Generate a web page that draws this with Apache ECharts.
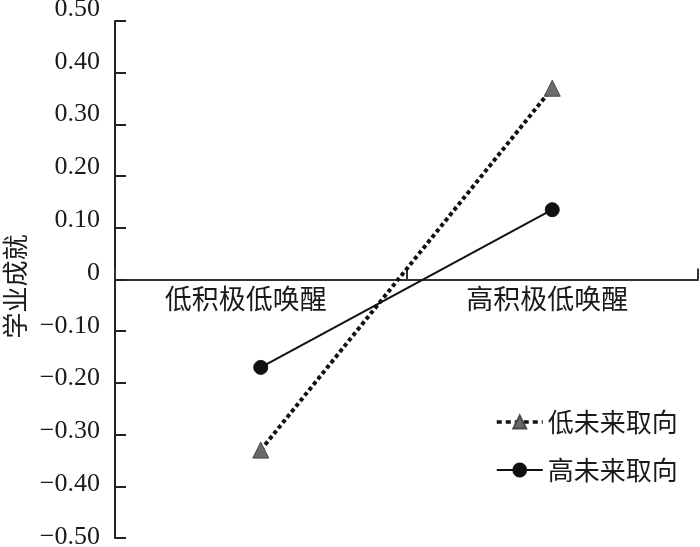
<!DOCTYPE html>
<html>
<head>
<meta charset="utf-8">
<script src="https://cdn.jsdelivr.net/npm/echarts@6/dist/echarts.min.js"></script>
<style>
	html, body { margin: 0; padding: 0; background: #fff; }
	#chart { width: 700px; height: 547px; }
</style>
</head>
<body>
<div id="chart"></div>
<script>
// 数据
const categories = [ '低积极低唤醒', '高积极低唤醒' ];
const lowFuture = [ -0.33, 0.37 ];
const highFuture = [ -0.17, 0.135 ];
const yTickValues = [ -0.5, -0.4, -0.3, -0.2, -0.1, 0, 0.1, 0.2, 0.3, 0.4, 0.5 ];

const cjk = '"Noto Sans CJK SC", sans-serif';
const serif = '"Liberation Serif", "DejaVu Serif", serif';

// y轴刻度文字略微上移（原图中文字与刻度不完全对齐）
const yRich = {};
yTickValues.forEach( function ( v, i ) {
	yRich[ 'y' + i ] = {
		fontFamily: serif,
		fontSize: 26,
		color: '#1a1a1a',
		padding: [ 0, 0, Math.round( 13 + 22 * v ), 0 ]
	};
} );

const xRich = {
	x0: { fontFamily: cjk, fontSize: 27, color: '#1a1a1a', padding: [ 0, 30, 0, 0 ] },
	x1: { fontFamily: cjk, fontSize: 27, color: '#1a1a1a', padding: [ 0, 10, 0, 0 ] }
};

const myChart = echarts.init( document.getElementById( 'chart' ), null, { renderer: 'canvas' } );
const option = {
	animation: false,
	backgroundColor: '#fff',
	grid: { left: 115, right: 2, top: 21, bottom: 9, outerBoundsMode: 'none', containLabel: false },
	legend: {
		orient: 'vertical',
		left: 490,
		top: 404,
		itemWidth: 46,
		itemHeight: 16,
		itemGap: 22,
		textStyle: { fontFamily: cjk, fontSize: 26, color: '#1a1a1a' },
		data: [
			{ name: '低未来取向', lineStyle: { color: '#111', width: 3.5, type: [ 5, 4 ] } },
			{ name: '高未来取向', lineStyle: { color: '#111', width: 2 } }
		]
	},
	xAxis: {
		type: 'category',
		data: categories,
		boundaryGap: true,
		// 把x轴整体移到 y=0 处（含刻度文字）
		offset: -258.5,
		axisLine: { onZero: false, lineStyle: { color: '#333', width: 2 } },
		axisTick: { show: true, inside: true, length: 11, lineStyle: { color: '#333', width: 2 } },
		axisLabel: {
			margin: 6,
			formatter: function ( value, index ) {
				return '{x' + index + '|' + value + '}';
			},
			rich: xRich
		},
		splitLine: { show: false }
	},
	yAxis: {
		type: 'value',
		min: -0.5,
		max: 0.5,
		interval: 0.1,
		name: '学业成就',
		nameLocation: 'middle',
		nameGap: 87,
		nameTextStyle: { fontFamily: cjk, fontSize: 26, color: '#1a1a1a', padding: [ 0, 14, 0, 0 ] },
		axisLine: { show: true, lineStyle: { color: '#222', width: 2 } },
		axisTick: { show: true, inside: true, length: 11, lineStyle: { color: '#222', width: 2 } },
		axisLabel: {
			margin: 15,
			formatter: function ( value ) {
				const i = Math.round( ( value + 0.5 ) * 10 );
				let text;
				if ( Math.abs( value ) < 1e-9 ) {
					text = '0';
				} else if ( value < 0 ) {
					text = '\u2212' + Math.abs( value ).toFixed( 2 );
				} else {
					text = value.toFixed( 2 );
				}
				return '{y' + i + '|' + text + '}';
			},
			rich: yRich
		},
		splitLine: { show: false }
	},
	series: [
		{
			name: '低未来取向',
			type: 'line',
			data: lowFuture,
			symbol: 'triangle',
			symbolSize: 16,
			itemStyle: { color: '#6a6a6a', borderColor: '#4a4a4a', borderWidth: 1 },
			lineStyle: { color: '#111', width: 4, type: [ 4, 3 ] }
		},
		{
			name: '高未来取向',
			type: 'line',
			data: highFuture,
			symbol: 'circle',
			symbolSize: 14,
			itemStyle: { color: '#111', borderColor: '#111', borderWidth: 1 },
			lineStyle: { color: '#111', width: 2 }
		}
	]
};
myChart.setOption( option );
</script>
</body>
</html>
